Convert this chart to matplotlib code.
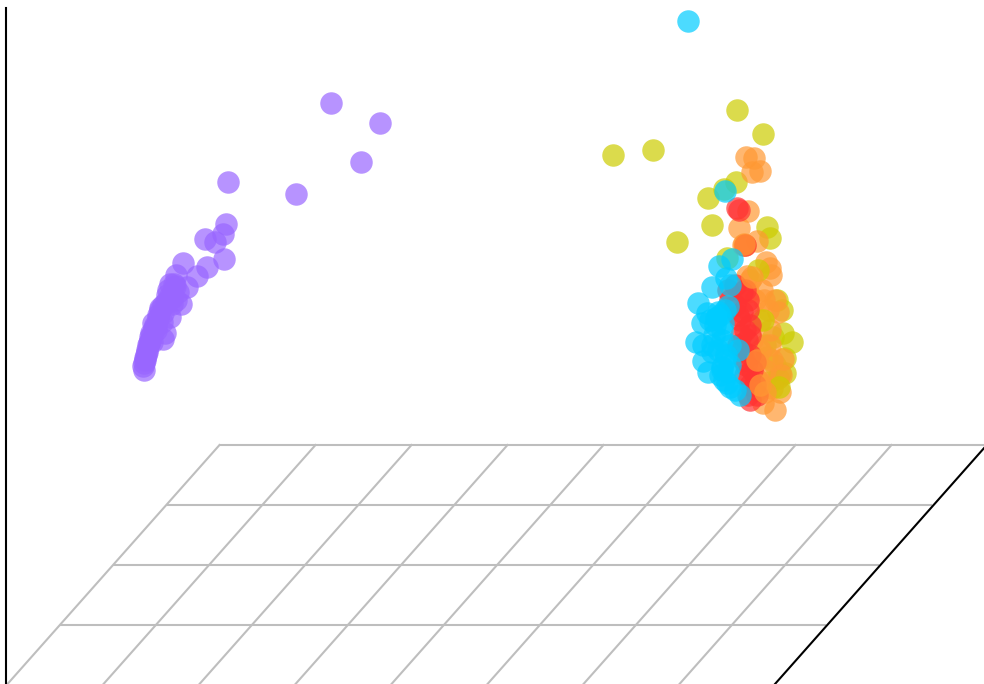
#!/usr/bin/python


import matplotlib

matplotlib.use("Agg")
import matplotlib.pyplot as plt

purple_x = [330.5, 379.5, 360.5, 295.5, 227.5, 225.5, 222.5, 214.5, 204.5, 223.5, 206.5, 197, 183, 176, 170, 187,
            181, 167, 178, 172, 175, 160, 170, 163, 158, 153, 165, 163, 150, 156, 152, 148,
            154, 150, 147, 146, 145, 144, 143, 144, 160, 162, 156, 152, 176, 172, 168,
            163, 158, 155, 151, 149, 147, 145, 170, 174, 166]
purple_y = [103, 123, 162, 194, 182, 224, 234, 242, 239, 259, 267, 276, 263, 275, 284, 287,
            304, 295, 292, 298, 286, 308, 317, 313, 318, 323, 333, 339, 337, 330, 334, 345,
            328, 341, 350, 355, 358, 363, 366, 370, 310, 322, 326, 342, 300, 304, 290,
            305, 315, 325, 333, 343, 352, 360, 296, 284, 302]

yellow_x = [613, 653, 737, 763, 736, 724, 708, 712, 677, 767, 770, 727, 777, 782, 792,
            783, 785, 780, 785, 767, 773, 775, 770, 765, 778]
yellow_y = [155, 150, 110, 134, 182, 189, 198, 225, 242, 227, 238, 258, 300, 310, 342,
            333, 358, 373, 373, 357, 337, 365, 382, 345, 378]

orange_x = [746, 754, 752, 760, 748, 739, 745, 757, 747, 766, 770, 771, 775, 768, 778, 770,
            783, 781, 772, 780, 775, 763, 757, 765, 760, 755, 760, 750, 762, 752, 770, 743,
            772, 756, 764, 748, 760]
orange_y = [157, 158, 172, 171, 211, 228, 245, 241, 276, 262, 268, 275, 300, 310, 312, 330,
            359, 375, 388, 392, 410, 403, 390, 370, 350, 300, 320, 280, 290, 340, 345, 245,
            360, 378, 300, 292, 382]

# a few yellow points sit over the orange ones
yellow_top_x = [758, 763, 779]
yellow_top_y = [270, 320, 387]

red_x = [737, 739, 745, 728, 742, 745, 735, 748, 740, 745, 750, 738, 750, 755, 745, 750,
         755, 748, 750, 757, 730, 735, 742, 747, 752, 738, 744, 749,
         748, 750, 742, 746, 741]
red_y = [208, 210, 245, 290, 292, 290, 305, 300, 320, 330, 325, 345, 355, 362, 375, 385,
         385, 395, 400, 395, 300, 285, 312, 340, 370, 315, 360, 378,
         310, 335, 350, 365, 335]

# some orange also lands on top of the red
orange_top_x = [744, 757, 760, 752, 765]
orange_top_y = [244, 360, 385, 277, 392]

cyan_x = [688, 725, 732, 719, 712, 730, 726, 698, 728, 707, 702, 723, 696, 703, 738, 703,
          708, 722, 730, 740, 725, 720, 715, 722, 718, 712, 730, 725, 728, 735, 716, 722,
          730, 720, 712, 724, 710, 714, 718, 726, 722, 727]
cyan_y = [21, 191, 259, 266, 287, 285, 278, 303, 306, 313, 323, 323, 342, 345, 350, 361,
          372, 367, 387, 395, 310, 315, 325, 330, 350, 345, 345, 360, 372, 390, 318, 340,
          365, 375, 352, 380, 320, 335, 312, 355, 370, 383]

# draw order is as listed, later clusters sit on top
clusters = [
    (purple_x, purple_y, "#9966ff"),
    (yellow_x, yellow_y, "#cccc00"),
    (orange_x, orange_y, "#ff9933"),
    (yellow_top_x, yellow_top_y, "#cccc00"),
    (red_x, red_y, "#ff3333"),
    (orange_top_x, orange_top_y, "#ff9933"),
    (cyan_x, cyan_y, "#00ccff"),
]

floor_rows = [445, 505, 565, 625]
floor_row_left = [219.5, 167.5, 113.5, 60.5]
floor_row_right = [984, 931, 878, 825]
floor_back = [219.5, 315.5, 411.5, 507.5, 603.5, 699.5, 795.5, 891.5]
floor_front = [7.5, 103.5, 199.5, 295.5, 391.5, 487.5, 583.5, 679.5]

fig = plt.figure(figsize=(9.84, 6.84), dpi=100)
ax = fig.add_axes([0, 0, 1, 1])
ax.set_xlim(0, 984)
ax.set_ylim(684, 0)
ax.axis("off")

grid_color = "#bebebe"
for y, x0, x1 in zip(floor_rows, floor_row_left, floor_row_right):
    ax.plot([x0, x1], [y, y], color=grid_color, lw=1.5, zorder=1)
for x0, x1 in zip(floor_back, floor_front):
    ax.plot([x0, x1], [445, 684], color=grid_color, lw=1.5, zorder=1)

ax.plot([6, 6], [8, 684], color="black", lw=1.5, zorder=2)
ax.plot([985, 775], [447, 684], color="black", lw=1.5, zorder=2)

for x, y, color in clusters:
    ax.scatter(x, y, s=262, c=color, alpha=0.7, linewidths=0, zorder=3)

fig.savefig("out.png", dpi=100)
